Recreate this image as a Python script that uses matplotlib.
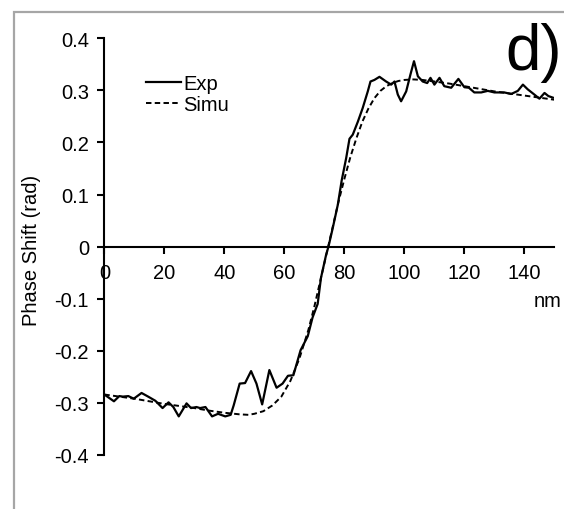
import matplotlib.pyplot as plt
from matplotlib.patches import Rectangle

plt.rcParams['font.family'] = ['Liberation Sans', 'DejaVu Sans']

exp_x = [0, 3.2, 5.0, 6.2, 8.0, 9.8, 12.4, 14.6, 17.0, 19.4, 21.4, 23.0, 24.8, 27.4,
         28.9, 30.7, 31.9, 33.7, 35.9, 37.9, 40.3, 42.1, 43.1, 45.1, 46.9, 48.9, 50.7,
         52.6, 55.0, 57.4, 59.4, 61.2, 63.0, 65.4, 67.8, 69.4, 71.1, 72.2, 73.9, 74.7,
         76.1, 77.8, 79.1, 80.6, 81.7, 82.8, 84.5, 86.1, 87.8, 88.7, 90.0, 91.7, 93.9,
         95.6, 96.7, 97.8, 98.9, 100.6, 102.0, 103.2, 104.5, 106.1, 107.6, 108.7, 110.0,
         111.7, 113.3, 115.6, 118.0, 120.0, 121.5, 123.3, 125.6, 127.8, 130.0, 133.3,
         135.6, 137.8, 139.5, 141.1, 143.3, 145.0, 146.7, 148.0, 149.5]
exp_y = [-0.284, -0.297, -0.287, -0.288, -0.287, -0.292, -0.281, -0.288, -0.296, -0.310,
         -0.299, -0.308, -0.326, -0.301, -0.310, -0.308, -0.310, -0.308, -0.326, -0.321,
         -0.326, -0.323, -0.305, -0.263, -0.262, -0.239, -0.263, -0.303, -0.237, -0.271,
         -0.263, -0.248, -0.247, -0.199, -0.172, -0.136, -0.110, -0.060, -0.016, 0.0,
         0.035, 0.080, 0.127, 0.170, 0.207, 0.215, 0.240, 0.266, 0.298, 0.317, 0.320,
         0.326, 0.317, 0.311, 0.317, 0.292, 0.279, 0.298, 0.330, 0.356, 0.327, 0.317,
         0.314, 0.324, 0.311, 0.324, 0.308, 0.305, 0.322, 0.306, 0.305, 0.296, 0.296,
         0.299, 0.296, 0.296, 0.293, 0.299, 0.311, 0.302, 0.292, 0.284, 0.295, 0.289,
         0.286]

# simulated phase shift
sim_x = [0, 5, 10, 15, 20, 25, 30, 35, 40, 45, 48, 50, 53, 56, 59, 62, 65, 68, 70, 72,
         74, 76, 78, 80, 82, 84, 86, 88, 90, 92, 94, 96, 98, 100, 103, 106, 110, 115,
         120, 125, 130, 135, 140, 145, 150]
sim_y = [-0.284, -0.288, -0.292, -0.297, -0.302, -0.306, -0.310, -0.315, -0.319, -0.322,
         -0.323, -0.321, -0.316, -0.305, -0.288, -0.258, -0.215, -0.160, -0.115, -0.065,
         -0.015, 0.035, 0.085, 0.130, 0.172, 0.208, 0.240, 0.265, 0.285, 0.299, 0.308,
         0.314, 0.318, 0.320, 0.321, 0.320, 0.317, 0.313, 0.308, 0.303, 0.298, 0.294,
         0.290, 0.286, 0.282]

xticks = [0, 20, 40, 60, 80, 100, 120, 140]
yticks = [-0.4, -0.3, -0.2, -0.1, 0, 0.1, 0.2, 0.3, 0.4]
ytick_labels = ['-0.4', '-0.3', '-0.2', '-0.1', '0', '0.1', '0.2', '0.3', '0.4']

fs = 14.5

fig = plt.figure(figsize=(5.64, 5.10), dpi=100)
ax = fig.add_axes([0.185, 0.106, 0.798, 0.817])

ax.plot(exp_x, exp_y, color='black', lw=1.6, label='Exp')
ax.plot(sim_x, sim_y, color='black', lw=1.4, linestyle=(0, (2.8, 1.7)), label='Simu')

ax.set_xlim(0, 150)
ax.set_ylim(-0.4, 0.4)
ax.set_xticks(xticks)
ax.set_yticks(yticks)
ax.set_yticklabels(ytick_labels)

for s in ['top', 'right']:
    ax.spines[s].set_visible(False)
ax.spines['bottom'].set_position(('data', 0))
ax.spines['bottom'].set_linewidth(1.5)
ax.spines['left'].set_linewidth(1.5)
ax.tick_params(axis='both', direction='out', length=5, width=1.5, labelsize=fs)
ax.tick_params(axis='y', pad=6)
ax.tick_params(axis='x', pad=7)

ax.text(0.986, 0.37, 'nm', transform=ax.transAxes, ha='center', va='center', fontsize=fs)
fig.text(32 / 564, 1 - 250 / 510, 'Phase Shift (rad)', rotation=90,
         ha='center', va='center', fontsize=fs)
fig.text(505 / 564, 1 - 70 / 510, 'd)', fontsize=46, ha='left', va='baseline')

ax.legend(loc='center left', bbox_to_anchor=(146 / 564, 1 - 95 / 510),
          bbox_transform=fig.transFigure, frameon=False, borderpad=0, borderaxespad=0,
          handlelength=1.75, handletextpad=0.1, labelspacing=0.12, fontsize=fs)

# grey frame round the panel (runs off the right and bottom edges)
fig.patches.append(Rectangle((14 / 564, -0.1), 1.2, 1.1 - 13 / 510, transform=fig.transFigure,
                             fill=False, edgecolor='#a6a6a6', lw=1.6))

fig.savefig('out.png', dpi=100)
